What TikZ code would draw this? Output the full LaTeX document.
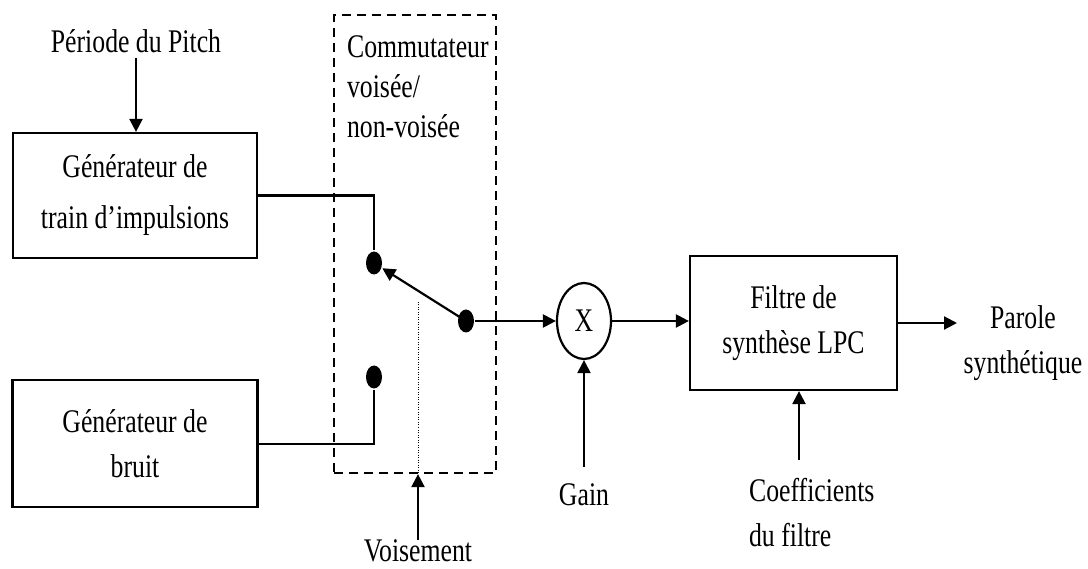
\documentclass[tikz,border=0pt]{standalone}
\usepackage{fontspec}
\setmainfont{Liberation Serif}[FakeStretch=0.78]
\usetikzlibrary{positioning}
\usetikzlibrary{calc}
\usetikzlibrary{arrows.meta}
\usetikzlibrary{shapes.geometric}

\begin{document}
\begin{tikzpicture}[x=1pt, y=-1pt, line width=2.2pt,
		every node/.style={font=\fontsize{33pt}{45pt}\selectfont},
		block/.style={draw, align=center, inner sep=0pt},
		contact/.style={ellipse, fill=black, minimum width=16pt, minimum height=23pt, inner sep=0pt},
		flow/.style={-{Triangle[length=13pt,width=13pt]}}]
	\useasboundingbox (0,0) rectangle (1088,569);

	% nodes
	\node[block, minimum width=244pt, minimum height=125pt] (train) at (135,195.5) {Générateur de\\[6pt]train d’impulsions};
	\node[block, minimum width=245pt, minimum height=127pt, below = 120pt of train] (bruit) {Générateur de\\bruit};

	\node[draw, dash pattern=on 9pt off 6pt, minimum width=162pt, minimum height=458pt] (switchbox) at (415,244) {};
	\node[anchor=north west, align=left, inner sep=0pt, font=\fontsize{33pt}{40pt}\selectfont] (commut) at (346,35) {Commutateur\\voisée/\\non-voisée};

	\node[contact] (dotv) at (374,263) {};
	\node[contact] (dotu) at (374,377) {};
	\node[contact] (pivot) at (466,321) {};

	\node[ellipse, draw, minimum width=54pt, minimum height=76pt, inner sep=0pt] (mult) at (584,321) {X};
	\node[block, minimum width=207pt, minimum height=134pt] (filtre) at (793.5,323) {Filtre de\\synthèse LPC};
	\coordinate (out) at (957,323);
	\node[align=center] (parole) at (1023,343) {Parole\\synthétique};

	\node[anchor=base] (pitch) at (136,53) {Période du Pitch};
	\node[anchor=base] (gain) at (584,505) {Gain};
	\node[anchor=base, inner sep=4pt] (voise) at (418,561) {Voisement};
	\node[anchor=north west, align=left, inner sep=0pt] (coef) at (748,477) {Coefficients\\du filtre};
	\coordinate (coefin) at (799,460);
	\coordinate (armpt) at (418,302);

	% edges
	\draw[flow] (pitch.south) -- (pitch.south |- train.north);
	\draw (train.east) -| (dotv.north);
	\draw (bruit.east) -| (dotu.south);
	\draw[flow] (pivot.center) -- (dotv);
	\draw[line width=0.8pt, dash pattern=on 1pt off 1.5pt] (armpt) -- (armpt |- switchbox.south);
	\draw[flow] ([yshift=-6pt]voise.north) -- (voise.north |- switchbox.south);

	\draw[flow] (pivot) -- (mult);
	\draw[flow] (mult.east) -- (mult.east -| filtre.west);
	\draw[flow] ([yshift=12pt]gain.north) -- (mult.south);
	\draw[flow] (coefin) -- (coefin |- filtre.south);
	\draw[flow] (filtre.east) -- (out);
\end{tikzpicture}
\end{document}
